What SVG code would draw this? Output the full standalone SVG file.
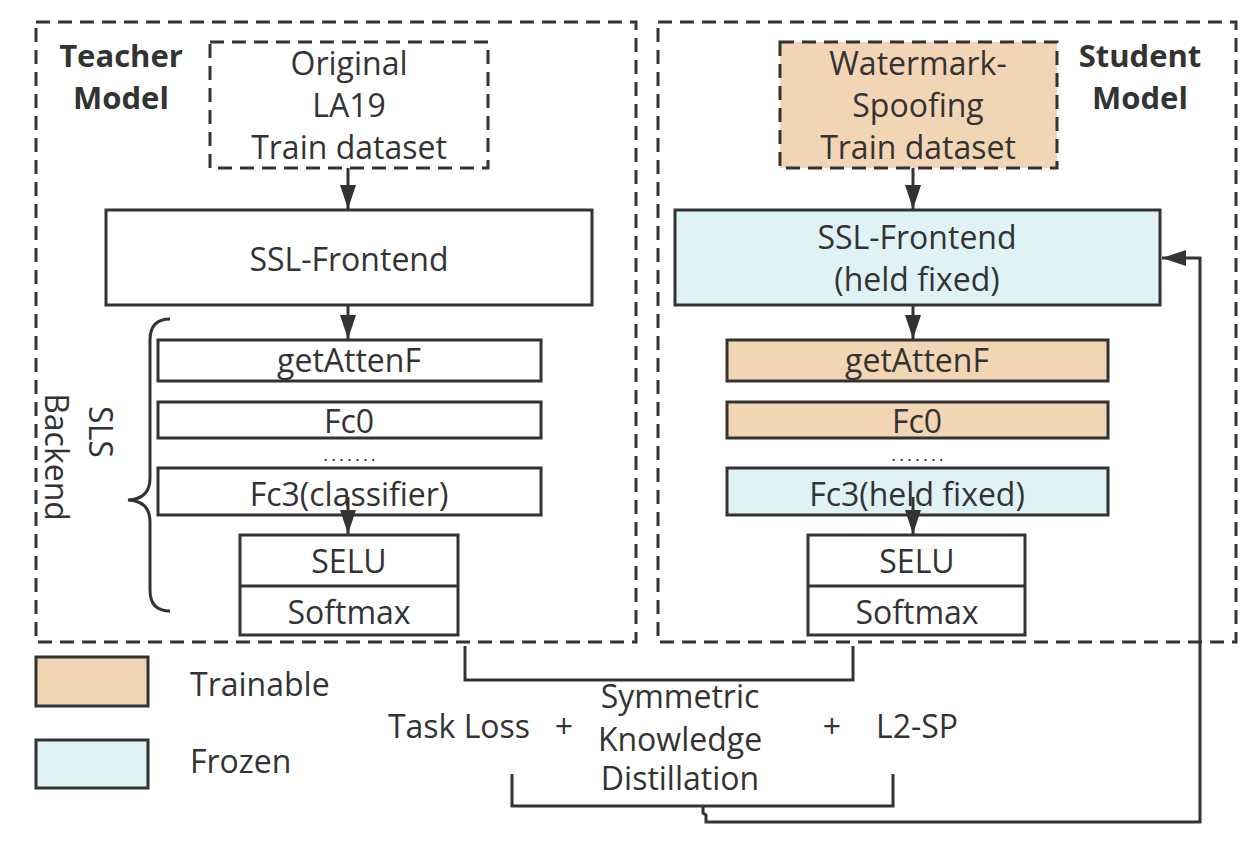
<svg xmlns="http://www.w3.org/2000/svg" width="1260" height="854" viewBox="0 0 1260 854">
<defs>
<style>
.t{font-family:"Open Sans","Noto Sans","DejaVu Sans",sans-serif;font-size:32px;fill:#333;text-anchor:middle}
.s{text-anchor:start}
.d{font-size:18px;letter-spacing:3.2px}
.b{font-family:"Open Sans","Noto Sans","DejaVu Sans",sans-serif;font-size:31px;font-weight:bold;fill:#333;text-anchor:middle}
.box{fill:#fff;stroke:#333;stroke-width:3}
.tr{fill:#f2d5b5;stroke:#333;stroke-width:3}
.fz{fill:#dff2f5;stroke:#333;stroke-width:3}
.dash{fill:none;stroke:#333;stroke-width:3;stroke-dasharray:14 8}
.ln{fill:none;stroke:#333;stroke-width:3}
</style>
<marker id="ah" viewBox="0 0 24 16" refX="24" refY="8" markerWidth="24" markerHeight="16" markerUnits="userSpaceOnUse" orient="auto">
<path d="M0,0 L24,8 L0,16 Z" fill="#333"/>
</marker>
</defs>
<rect width="1260" height="854" fill="#fff"/>

<g id="teacher">
<rect x="36" y="22" width="600" height="620" class="dash"/>
<text class="b" x="121" y="67">Teacher</text>
<text class="b" x="121" y="109">Model</text>
</g>
<g id="student">
<rect x="658" y="22" width="578" height="620" class="dash"/>
<text class="b" x="1140" y="67">Student</text>
<text class="b" x="1140" y="109">Model</text>
</g>

<g id="t-data">
<rect x="210" y="42" width="278" height="126" class="dash" fill="#fff"/>
<text class="t" x="349" y="75">Original</text>
<text class="t" x="349" y="117">LA19</text>
<text class="t" x="349" y="159">Train dataset</text>
</g>
<g id="t-ssl">
<rect x="106" y="210" width="486" height="95" class="box"/>
<text class="t" x="349" y="271">SSL-Frontend</text>
</g>
<g id="t-getatt">
<rect x="158" y="340" width="383" height="41" class="box"/>
<text class="t" x="349" y="372">getAttenF</text>
</g>
<g id="t-fc0">
<rect x="158" y="402" width="383" height="36" class="box"/>
<text class="t" x="349" y="433">Fc0</text>
</g>
<text class="t d" x="351" y="461">.......</text>
<g id="t-fc3">
<rect x="158" y="468" width="383" height="47" class="box"/>
<text class="t" x="349" y="506">Fc3(classifier)</text>
</g>
<g id="t-out">
<rect x="240" y="535" width="218" height="100" class="box"/>
<line x1="240" y1="586" x2="458" y2="586" class="ln"/>
<text class="t" x="349" y="573">SELU</text>
<text class="t" x="349" y="624">Softmax</text>
</g>
<g id="t-brace">
<path d="M170,319 Q150,319 150,340 L150,478 Q150,499 128,500 Q150,501 150,522 L150,590 Q150,611 170,611" class="ln"/>
<text class="t" transform="translate(89,432) rotate(90)">SLS</text>
<text class="t" transform="translate(45,457) rotate(90)">Backend</text>
</g>

<g id="s-data">
<rect x="780" y="42" width="277" height="126" class="tr" stroke-dasharray="14 8"/>
<text class="t" x="918" y="75">Watermark-</text>
<text class="t" x="918" y="117">Spoofing</text>
<text class="t" x="918" y="159">Train dataset</text>
</g>
<g id="s-ssl">
<rect x="675" y="210" width="485" height="95" class="fz"/>
<text class="t" x="917" y="249">SSL-Frontend</text>
<text class="t" x="917" y="291">(held fixed)</text>
</g>
<g id="s-getatt">
<rect x="727" y="340" width="381" height="41" class="tr"/>
<text class="t" x="917" y="372">getAttenF</text>
</g>
<g id="s-fc0">
<rect x="727" y="402" width="381" height="36" class="tr"/>
<text class="t" x="917" y="433">Fc0</text>
</g>
<text class="t d" x="919" y="461">.......</text>
<g id="s-fc3">
<rect x="727" y="468" width="381" height="47" class="fz"/>
<text class="t" x="917" y="506">Fc3(held fixed)</text>
</g>
<g id="s-out">
<rect x="808" y="535" width="217" height="100" class="box"/>
<line x1="808" y1="586" x2="1025" y2="586" class="ln"/>
<text class="t" x="917" y="573">SELU</text>
<text class="t" x="917" y="624">Softmax</text>
</g>

<g id="legend">
<rect x="36" y="657" width="112" height="49" class="tr"/>
<text class="t s" x="190" y="696">Trainable</text>
<rect x="36" y="740" width="112" height="48" class="fz"/>
<text class="t s" x="190" y="773">Frozen</text>
</g>

<g id="loss">
<text class="t" x="459" y="738">Task Loss</text>
<text class="t" x="564" y="738">+</text>
<text class="t" x="680" y="708">Symmetric</text>
<text class="t" x="680" y="751">Knowledge</text>
<text class="t" x="680" y="790">Distillation</text>
<text class="t" x="832" y="738">+</text>
<text class="t" x="917" y="738">L2-SP</text>
</g>

<g id="connectors">
<line x1="348" y1="168" x2="348" y2="209" class="ln" marker-end="url(#ah)"/>
<line x1="348" y1="305" x2="348" y2="339" class="ln" marker-end="url(#ah)"/>
<line x1="348" y1="497" x2="348" y2="534" class="ln" marker-end="url(#ah)"/>
<line x1="913" y1="168" x2="913" y2="209" class="ln" marker-end="url(#ah)"/>
<line x1="913" y1="305" x2="913" y2="339" class="ln" marker-end="url(#ah)"/>
<line x1="913" y1="497" x2="913" y2="534" class="ln" marker-end="url(#ah)"/>
<path d="M465,646 L465,680 L853,680 L853,646" class="ln"/>
<path d="M512,774 L512,806 L893,806 L893,774" class="ln"/>
<path d="M703,806 L703,813 L706,815 L706,822 L1200,822 L1200,258 L1162,258" class="ln" marker-end="url(#ah)"/>
</g>
</svg>
